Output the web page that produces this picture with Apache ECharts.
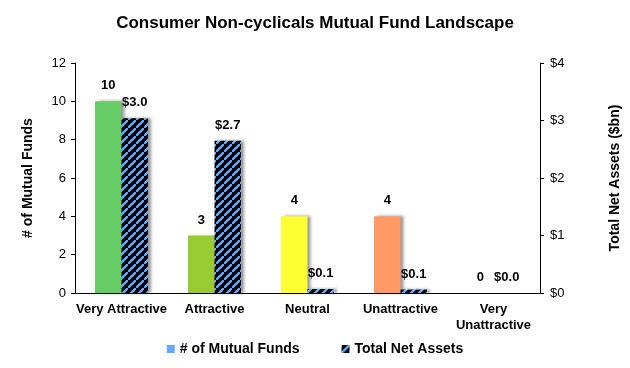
<!DOCTYPE html>
<html><head><meta charset="utf-8">
<script src="https://cdn.jsdelivr.net/npm/echarts@6/dist/echarts.min.js"></script>
<style>html,body{margin:0;padding:0;background:#fff}#c{width:630px;height:368px}</style>
</head><body><div id="c"></div>
<script>
const categories = ['Very Attractive', 'Attractive', 'Neutral', 'Unattractive', 'Very\nUnattractive'];
const fundCounts = [10, 3, 4, 4, 0];
const netAssets = [3.04, 2.65, 0.07, 0.06, 0.0];
const assetLabels = ['$3.0', '$2.7', '$0.1', '$0.1', '$0.0'];
const fundColors = ['#66CC66', '#99CC33', '#FFFF33', '#FF9966', '#BBBBBB'];
const leftTicks = [0, 2, 4, 6, 8, 10, 12];
const rightTicks = [0, 1, 2, 3, 4];

function hatch() {
  const n = 8;
  const c = document.createElement('canvas');
  c.width = n; c.height = n;
  const g = c.getContext('2d');
  g.fillStyle = '#000'; g.fillRect(0, 0, n, n);
  g.strokeStyle = '#66AAFF'; g.lineWidth = 2.4;
  g.beginPath();
  g.moveTo(-2, n + 2); g.lineTo(n + 2, -2);
  g.moveTo(-n - 2, 2); g.lineTo(2, -n - 2);
  g.moveTo(n - 2, 2 * n + 2); g.lineTo(2 * n + 2, n - 2);
  g.stroke();
  return c;
}
const pat = { image: hatch(), repeat: 'repeat' };
const F = 'Liberation Sans, Arial, sans-serif';
const chart = echarts.init(document.getElementById('c'));
chart.setOption({
  animation: false,
  textStyle: { fontFamily: F },
  title: { text: 'Consumer Non-cyclicals Mutual Fund Landscape', left: 'center', top: 10,
    textStyle: { fontSize: 17, fontWeight: 'bold', color: '#000', fontFamily: F } },
  legend: { bottom: 7, left: 'center', itemGap: 42, itemWidth: 8, itemHeight: 8,
    textStyle: { fontSize: 14, fontWeight: 'bold', color: '#000', fontFamily: F },
    data: [{ name: '# of Mutual Funds', icon: 'rect' }, { name: 'Total Net Assets', icon: 'rect' }] },
  grid: { left: 75, right: 87, top: 63, bottom: 75 },
  xAxis: { type: 'category', data: categories,
    axisLine: { lineStyle: { color: '#000', width: 1 } },
    axisTick: { alignWithLabel: false, length: 4, lineStyle: { color: '#000' } },
    axisLabel: { interval: 0, fontSize: 13, fontWeight: 'bold', color: '#000', margin: 8, lineHeight: 16, fontFamily: F } },
  yAxis: [
    { type: 'value', min: 0, max: 12, interval: 2, name: '# of Mutual Funds', nameLocation: 'middle', nameGap: 40,
      nameTextStyle: { fontSize: 14, fontWeight: 'bold', color: '#000', fontFamily: F },
      axisLine: { show: true, lineStyle: { color: '#000' } }, axisTick: { show: true, length: 4, lineStyle: { color: '#000' } },
      splitLine: { show: false },
      axisLabel: { fontSize: 13, color: '#000', margin: 9, formatter: v => leftTicks.includes(v) ? String(v) : '' } },
    { type: 'value', min: 0, max: 4, interval: 1, name: 'Total Net Assets ($bn)', nameLocation: 'middle', nameGap: 68,
      nameRotate: 90,
      nameTextStyle: { fontSize: 14, fontWeight: 'bold', color: '#000', fontFamily: F },
      axisLine: { show: true, lineStyle: { color: '#000' } }, axisTick: { show: true, length: 4, lineStyle: { color: '#000' } },
      splitLine: { show: false },
      axisLabel: { fontSize: 13, color: '#000', margin: 10, formatter: v => rightTicks.includes(v) ? '$' + v : '' } }
  ],
  series: [
    { name: '# of Mutual Funds', type: 'bar', yAxisIndex: 0, barGap: '0%', barCategoryGap: '43%',
      itemStyle: { color: '#66AAFF', shadowColor: 'rgba(0,0,0,0.4)', shadowBlur: 3, shadowOffsetX: 3, shadowOffsetY: 0 },
      data: fundCounts.map((v, i) => ({ value: v, itemStyle: { color: fundColors[i] } })),
      label: { show: true, position: 'top', distance: 9, fontSize: 13, fontWeight: 'bold', color: '#000', fontFamily: F } },
    { name: 'Total Net Assets', type: 'bar', yAxisIndex: 1,
      itemStyle: { color: pat, shadowColor: 'rgba(0,0,0,0.4)', shadowBlur: 3, shadowOffsetX: 3, shadowOffsetY: 0 },
      data: netAssets,
      label: { show: true, position: 'top', distance: 9, fontSize: 13, fontWeight: 'bold', color: '#000', fontFamily: F,
        formatter: p => assetLabels[p.dataIndex] } }
  ]
});
</script></body></html>
